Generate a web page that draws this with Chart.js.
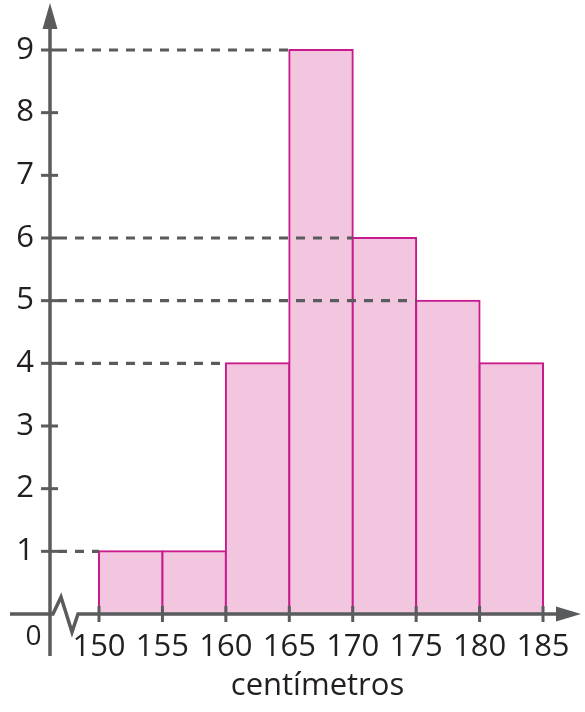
<!DOCTYPE html>
<html><head><meta charset="utf-8">
<script src="https://cdn.jsdelivr.net/npm/chart.js@4/dist/chart.umd.min.js"></script>
<style>html,body{margin:0;padding:0;background:#fff}canvas{display:block}</style>
</head><body>
<canvas id="c" width="585" height="712"></canvas>
<script>
// ---- data ----
const binStarts = [150, 155, 160, 165, 170, 175, 180];
const binWidth = 5;
const frequencies = [1, 1, 4, 9, 6, 5, 4];
const xTickValues = [150, 155, 160, 165, 170, 175, 180, 185];
const yTickValues = [1, 2, 3, 4, 5, 6, 7, 8, 9];
const xAxisTitle = 'centímetros';
const originLabel = '0';

// ---- styles ----
const AXIS = '#5a5b5d';
const TEXT = '#231f20';
const FONT = "'Open Sans', 'DejaVu Sans', sans-serif";

const points = binStarts.map((s, i) => ({ x: s + binWidth / 2, y: frequencies[i] }));

function noPad(s) {
  s.paddingTop = 0; s.paddingBottom = 0; s.paddingLeft = 0; s.paddingRight = 0;
}

const axesPlugin = {
  id: 'axesPlugin',
  afterDatasetsDraw(chart) {
    const ctx = chart.ctx;
    const xs = chart.scales.x, ys = chart.scales.y;
    const ox = chart.chartArea.left;
    const oy = ys.getPixelForValue(0);
    ctx.save();
    // dashed guide lines
    ctx.strokeStyle = AXIS;
    ctx.lineWidth = 3.2;
    ctx.setLineDash([9, 8]);
    const seen = new Set();
    frequencies.forEach((f, i) => {
      if (seen.has(f)) return;
      seen.add(f);
      const y = ys.getPixelForValue(f);
      const xEnd = xs.getPixelForValue(binStarts[i]);
      ctx.beginPath();
      ctx.moveTo(ox + 8, y);
      ctx.lineTo(xEnd, y);
      ctx.stroke();
    });
    ctx.setLineDash([]);
    // axes
    ctx.lineWidth = 3.5;
    ctx.lineCap = 'butt';
    ctx.lineJoin = 'miter';
    // y axis
    ctx.beginPath();
    ctx.moveTo(ox, 656);
    ctx.lineTo(ox, 26);
    ctx.stroke();
    ctx.fillStyle = AXIS;
    ctx.beginPath();
    ctx.moveTo(ox, 3);
    ctx.lineTo(ox - 7.5, 29);
    ctx.lineTo(ox + 7.5, 29);
    ctx.closePath();
    ctx.fill();
    // x axis left part + zigzag + rest
    ctx.beginPath();
    ctx.moveTo(10, oy);
    ctx.lineTo(ox + 3, oy);
    ctx.lineTo(ox + 11, oy - 17);
    ctx.lineTo(ox + 22, oy + 18);
    ctx.lineTo(ox + 28, oy);
    ctx.lineTo(560, oy);
    ctx.stroke();
    ctx.beginPath();
    ctx.moveTo(581, oy);
    ctx.lineTo(556, oy - 7.5);
    ctx.lineTo(556, oy + 7.5);
    ctx.closePath();
    ctx.fill();
    // tick marks
    ctx.lineWidth = 3;
    yTickValues.forEach(v => {
      const y = ys.getPixelForValue(v);
      ctx.beginPath();
      ctx.moveTo(ox - 9, y);
      ctx.lineTo(ox + 8, y);
      ctx.stroke();
    });
    xTickValues.forEach(v => {
      const x = xs.getPixelForValue(v);
      ctx.beginPath();
      ctx.moveTo(x, oy - 8);
      ctx.lineTo(x, oy + 8);
      ctx.stroke();
    });
    // origin label
    ctx.fillStyle = TEXT;
    ctx.font = "28px " + FONT;
    ctx.textAlign = 'center';
    ctx.textBaseline = 'alphabetic';
    ctx.fillText(originLabel, 33.5, 645);
    ctx.restore();
  }
};

new Chart(document.getElementById('c'), {
  type: 'bar',
  data: {
    datasets: [{
      data: points,
      backgroundColor: '#f2c6df',
      borderColor: '#c81a8c',
      borderWidth: 2,
      inflateAmount: 1,
      barPercentage: 1,
      categoryPercentage: 1
    }]
  },
  options: {
    responsive: false,
    animation: false,
    layout: { padding: { top: 3, left: 0, right: 0, bottom: 0 } },
    plugins: { legend: { display: false }, tooltip: { enabled: false } },
    scales: {
      x: {
        type: 'linear',
        offset: false,
        min: 146.137,
        max: 188.31,
        afterBuildTicks: s => { s.ticks = xTickValues.map(v => ({ value: v })); },
        afterFit: s => { s.height = 98; noPad(s); },
        grid: { display: false, drawTicks: false },
        border: { display: false },
        ticks: {
          autoSkip: false, maxRotation: 0, minRotation: 0, padding: 15,
          color: TEXT, font: { family: FONT, size: 31 },
          callback: v => String(v)
        },
        title: {
          display: true, text: xAxisTitle, color: TEXT,
          font: { family: FONT, size: 31 },
          padding: { top: 0, bottom: 7 }
        }
      },
      y: {
        type: 'linear',
        min: 0,
        max: 9.75,
        afterBuildTicks: s => { s.ticks = yTickValues.map(v => ({ value: v })); },
        afterFit: s => { s.width = 50; noPad(s); },
        grid: { display: false, drawTicks: false },
        border: { display: false },
        ticks: {
          padding: 16, color: TEXT, font: { family: FONT, size: 31 },
          callback: v => String(v)
        }
      }
    }
  },
  plugins: [axesPlugin]
});
</script>
</body></html>
